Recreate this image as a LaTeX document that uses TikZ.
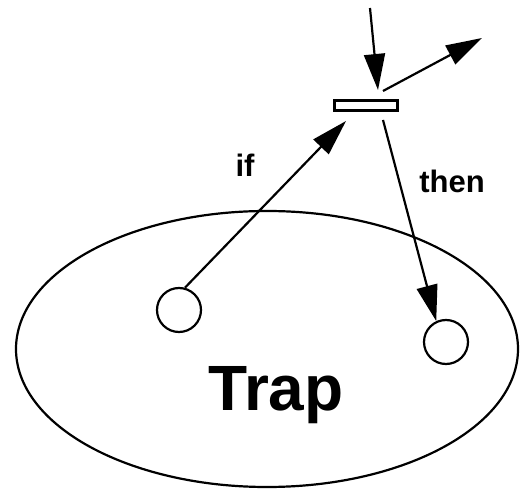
\documentclass[tikz,border=0pt]{standalone}
\usepackage{fontspec}
\setmainfont{Liberation Sans}
\usetikzlibrary{arrows.meta}
\begin{document}
\begin{tikzpicture}[x=1pt,y=1pt,
  line/.style={line width=2.2pt},
  arr/.style={line width=2.2pt,-{Triangle[length=36pt 0 0,width=21pt 0 0]}},
  place/.style={circle,draw,line width=2.2pt,minimum size=44pt,inner sep=0pt},
  trans/.style={rectangle,draw,line width=3pt,minimum width=63pt,minimum height=10pt,inner sep=0pt,fill=white},
  lbl/.style={font=\bfseries\fontsize{31}{34}\selectfont,anchor=base,inner sep=0pt}]
\useasboundingbox (0,0) rectangle (520,-489);
\draw[line] (267,-349) ellipse [x radius=251, y radius=138];
\node[place] (c1) at (179,-310) {};
\node[place] (c2) at (446,-342) {};
\node[trans] (t) at (366,-105.5) {};
\node[font=\bfseries\fontsize{64}{70}\selectfont,anchor=base,inner sep=0pt] (trap) at (276,-410) {Trap};
\node[lbl] (if) at (245,-177) {if};
\node[lbl] (then) at (452,-193) {then};
\coordinate (inS) at (370,-8);
\coordinate (inE) at (378,-90);
\coordinate (outS) at (383,-91);
\coordinate (outE) at (482,-38);
\coordinate (ifE) at (346,-121);
\coordinate (thenS) at (383,-120);
\draw[arr] (inS) -- (inE);
\draw[arr] (outS) -- (outE);
\draw[arr] (c1.75) -- (ifE);
\draw[arr] (thenS) -- (c2.115);
\end{tikzpicture}
\end{document}
